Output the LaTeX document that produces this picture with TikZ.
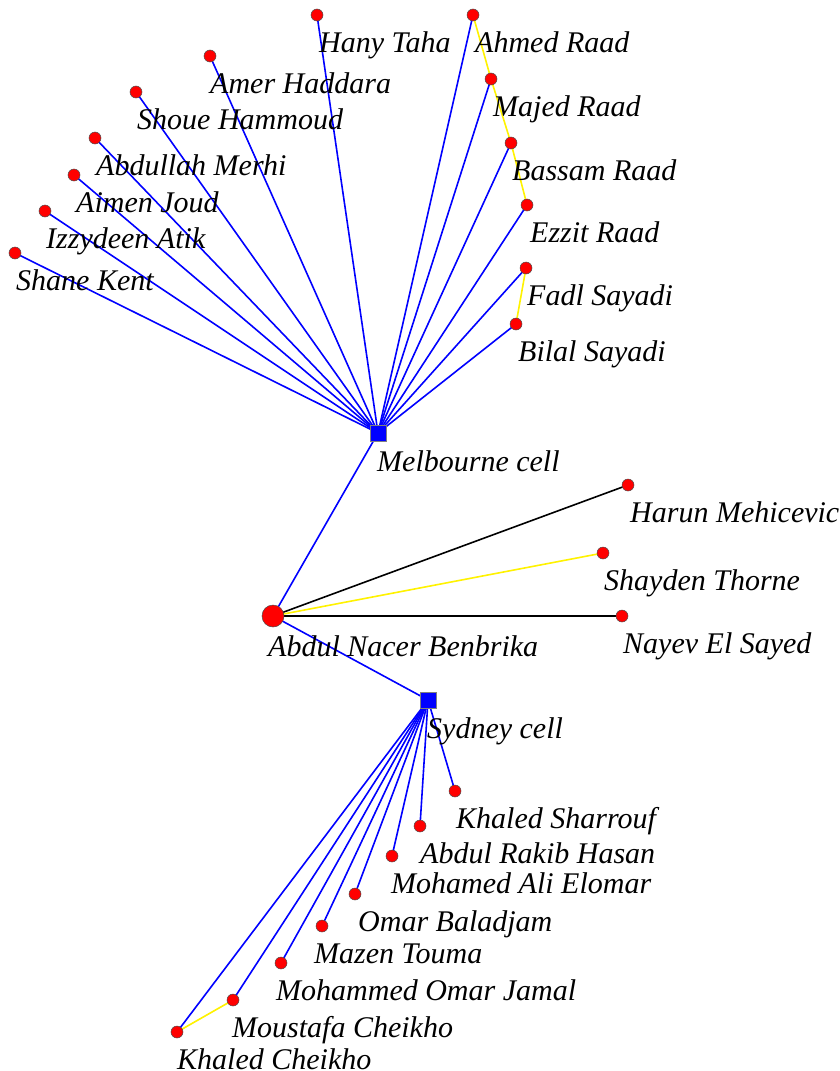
\documentclass[tikz,border=0pt]{standalone}
\usepackage{fontspec}
\setmainfont{Liberation Serif}
\usetikzlibrary{calc,backgrounds}
\tikzset{
  person/.style={circle, fill=red, draw=black!70, line width=0.5pt, minimum size=12pt, inner sep=0pt},
  leader/.style={circle, fill=red, draw=black!70, line width=0.5pt, minimum size=22pt, inner sep=0pt},
  cell/.style={rectangle, fill=blue, draw=black!50, line width=0.5pt, minimum size=16pt, inner sep=0pt},
  nametext/.style={anchor=base west, inner sep=0pt, font=\fontsize{30}{31}\selectfont\itshape},
  tie/.style={blue, line width=1.6pt},
  kin/.style={yellow, line width=1.6pt},
  blackline/.style={black, line width=1.6pt},
}
% place a labelled vertex: #1 name, #2 style, #3 x, #4 y, #5/#6 label shift, #7 text
\newcommand{\vertex}[7]{%
  \node[#2] (#1) at (#3,#4) {};
  \node[nametext] (#1-t) at ($(#1.center)+(#5,#6)$) {#7};
}
\begin{document}
\begin{tikzpicture}[x=1pt, y=-1pt]
\useasboundingbox (0,0) rectangle (840,1071);
% vertices
\vertex{mel}{cell}{378}{433}{-1}{38}{Melbourne cell}
\vertex{syd}{cell}{428}{700}{-1}{38.5}{Sydney cell}
\vertex{ben}{leader}{273}{616}{-5}{40}{Abdul Nacer Benbrika}
\vertex{hany}{person}{317}{15}{2}{37}{Hany Taha}
\vertex{ahmed}{person}{473}{15}{2}{37}{Ahmed Raad}
\vertex{majed}{person}{491}{79}{2}{37}{Majed Raad}
\vertex{bassam}{person}{511}{143}{1}{37}{Bassam Raad}
\vertex{ezzit}{person}{527}{205}{3}{37}{Ezzit Raad}
\vertex{fadl}{person}{526}{268}{1}{37}{Fadl Sayadi}
\vertex{bilal}{person}{516}{324}{2}{37}{Bilal Sayadi}
\vertex{amer}{person}{210}{56}{0}{37}{Amer Haddara}
\vertex{shoue}{person}{136}{92}{1}{37}{Shoue Hammoud}
\vertex{abdullah}{person}{95}{138}{1}{37}{Abdullah Merhi}
\vertex{aimen}{person}{74}{175}{2}{37}{Aimen Joud}
\vertex{izzy}{person}{45}{211}{1}{37}{Izzydeen Atik}
\vertex{shane}{person}{15}{253}{1}{37}{Shane Kent}
\vertex{harun}{person}{628}{485}{2}{37}{Harun Mehicevic}
\vertex{shayden}{person}{603}{553}{1}{37}{Shayden Thorne}
\vertex{nayev}{person}{622}{616}{1}{37}{Nayev El Sayed}
\vertex{sharrouf}{person}{455}{791}{1}{37}{Khaled Sharrouf}
\vertex{hasan}{person}{420}{826}{0}{37}{Abdul Rakib Hasan}
\vertex{elomar}{person}{392}{856}{-1}{37}{Mohamed Ali Elomar}
\vertex{omar}{person}{355}{894}{3}{37}{Omar Baladjam}
\vertex{mazen}{person}{322}{926}{-8}{37}{Mazen Touma}
\vertex{jamal}{person}{281}{963}{-5}{37}{Mohammed Omar Jamal}
\vertex{moustafa}{person}{233}{1000}{-1}{37}{Moustafa Cheikho}
\vertex{khaled}{person}{177}{1032}{0}{37}{Khaled Cheikho}
% edges, beneath the vertices
\begin{scope}[on background layer]
\foreach \m in {hany,ahmed,majed,bassam,ezzit,fadl,bilal,amer,shoue,abdullah,aimen,izzy,shane,ben}
  \draw[tie] (mel.center) -- (\m.center);
\foreach \m in {sharrouf,hasan,elomar,omar,mazen,jamal,moustafa,khaled,ben}
  \draw[tie] (syd.center) -- (\m.center);
\draw[kin] (ahmed.center) -- (majed.center) -- (bassam.center) -- (ezzit.center);
\draw[kin] (fadl.center) -- (bilal.center);
\draw[kin] (moustafa.center) -- (khaled.center);
\draw[blackline] (ben.center) -- (harun.center);
\draw[kin] (ben.center) -- (shayden.center);
\draw[blackline] (ben.center) -- (nayev.center);
\end{scope}
\end{tikzpicture}
\end{document}
